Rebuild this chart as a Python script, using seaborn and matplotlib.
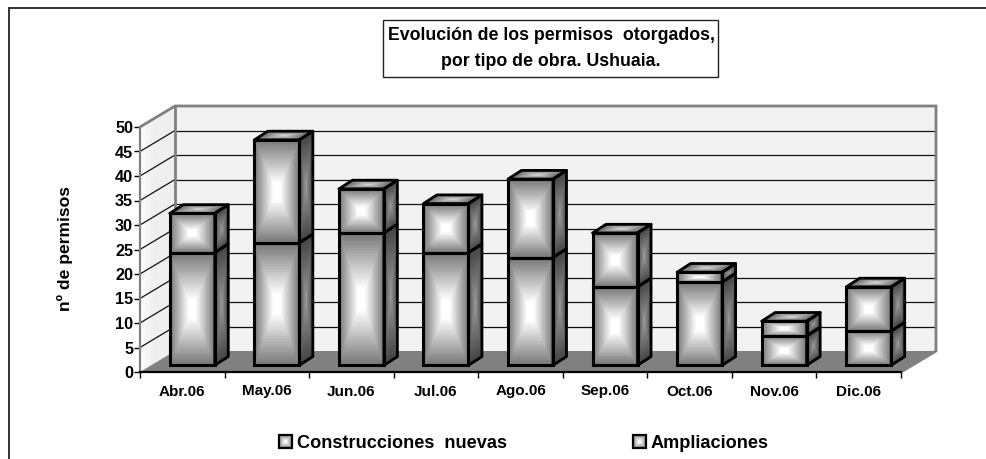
# -*- coding: utf-8 -*-
import numpy as np
import matplotlib
matplotlib.use('Agg')
import matplotlib.pyplot as plt
import seaborn as sns
from matplotlib.legend_handler import HandlerBase
from matplotlib.patches import Patch, Polygon, Rectangle

# Chart data
meses = ['Abr.06', 'May.06', 'Jun.06', 'Jul.06', 'Ago.06', 'Sep.06', 'Oct.06', 'Nov.06', 'Dic.06']
construcciones = [23, 25, 27, 23, 22, 16, 17, 6, 7]
ampliaciones = [8, 21, 9, 10, 16, 11, 2, 3, 9]
y_ticks = [0, 5, 10, 15, 20, 25, 30, 35, 40, 45, 50]

sns.set_style('white')
plt.rcParams['font.family'] = ['Liberation Sans', 'DejaVu Sans']
plt.rcParams['font.weight'] = 'bold'
plt.rcParams['text.color'] = 'black'
plt.rcParams['xtick.labelcolor'] = 'black'
plt.rcParams['ytick.labelcolor'] = 'black'
plt.rcParams['axes.labelcolor'] = 'black'

W, H = 986, 459
fig = plt.figure(figsize=(W / 100, H / 100), dpi=100)


def px_axes(x0, y_bottom, width, height):
    # Axes placed in pixels of the image (y counted from the top)
    return fig.add_axes([x0 / W, (H - y_bottom) / H, width / W, height / H])


# Front plane of the axis, pixels per unit are the same on both axes
ax = px_axes(140, 372, 761, 245)
ax.set_xlim(-0.5, 8.5)
ax.set_ylim(0, 50)
ux = 761 / 9
uy = 245 / 50

# Depth of the walls and of the bars, in data units
wall_dx, wall_dy = 35 / ux, 21 / uy
bar_dx, bar_dy = 13.5 / ux, 8.7 / uy

# -------------------------------------
# Walls and floor
# -------------------------------------
gris = '#808080'
x0, x1 = ax.get_xlim()
back = (x0 + wall_dx, x1 + wall_dx)

ax.add_patch(Polygon([(back[0], wall_dy), (back[1], wall_dy), (back[1], 50 + wall_dy), (back[0], 50 + wall_dy)],
                     fc='#f2f2f2', ec='none', clip_on=False, zorder=1))

# Left wall, lighter near the front
u = np.linspace(0, 1, 12)
X = x0 + np.outer(u, np.ones(2)) * wall_dx
Y = np.outer(u * wall_dy, np.ones(2)) + np.array([0, 50])
ax.pcolormesh(X, Y, (0.985 - 0.05 * np.minimum(u * 3, 1))[:-1, None], cmap='gray', vmin=0, vmax=1,
              shading='flat', clip_on=False, zorder=1)

ax.add_patch(Polygon([(x0, 0), (x1, 0), (back[1], wall_dy), (back[0], wall_dy)],
                     fc=gris, ec='none', clip_on=False, zorder=2))

# Grid lines on both walls
for v in y_ticks[1:-1]:
    ax.plot(back, [v + wall_dy, v + wall_dy], color='#111111', lw=0.9, clip_on=False, zorder=2)
    ax.plot([x0, back[0]], [v, v + wall_dy], color='#111111', lw=0.9, clip_on=False, zorder=2)

# Wall outline
ax.plot([x0, back[0], back[1], back[1], x1], [50, 50 + wall_dy, 50 + wall_dy, wall_dy, 0],
        color=gris, lw=2, clip_on=False, zorder=3, solid_joinstyle='miter')
ax.plot([back[0], back[0]], [wall_dy, 50 + wall_dy], color=gris, lw=2, clip_on=False, zorder=3)
ax.plot([x0, x0], [0, 50], color=gris, lw=1.6, clip_on=False, zorder=3)

# Axis look
ax.patch.set_visible(False)
for s in ['top', 'right', 'left']:
    ax.spines[s].set_visible(False)
ax.spines['bottom'].set_linewidth(1.6)
ax.spines['bottom'].set_color('black')
ax.spines['bottom'].set_zorder(4)
ax.set_xticks(np.arange(-0.5, 9, 1))
ax.set_xticklabels([])
ax.set_xticks(np.arange(9), meses, minor=True)
ax.set_yticks(y_ticks)
ax.tick_params(axis='x', which='major', length=4, width=1, color='black', bottom=True)
ax.tick_params(axis='x', which='minor', length=0, pad=9, labelsize=11)
ax.tick_params(axis='y', length=4, width=1, color='black', left=True, pad=1, labelsize=11.7)
ax.set_ylabel('nº de permisos', fontsize=12.6, fontweight='bold')
ax.yaxis.set_label_coords(-67 / 761, 0.505)

# -------------------------------------
# Bars: seaborn on a second axes, moved a bit into the floor
# -------------------------------------
pos = np.arange(len(meses))
ax2 = px_axes(150, 365.3, 761, 245)
sns.barplot(x=pos, y=construcciones, color='white', width=45 / ux, edgecolor='black', linewidth=2.2,
            saturation=1, native_scale=True, ax=ax2)
sns.barplot(x=pos, y=ampliaciones, bottom=construcciones, color='white', width=45 / ux, edgecolor='black',
            linewidth=2.2, saturation=1, native_scale=True, ax=ax2)
ax2.set_xlim(-0.5, 8.5)
ax2.set_ylim(0, 50)
ax2.axis('off')


def gradient(n, m, low, high, power=1.0):
    # Rectangular gradient: light centre, dark border
    a = np.abs(np.linspace(-1, 1, n))
    b = np.abs(np.linspace(-1, 1, m))
    t = np.maximum.outer(b, a)
    return np.minimum(low + (high - low) * (1 - t) ** power, 1)


def paint(corner, du, dv, low, high, zorder=5):
    # Paints the parallelogram corner, corner + du, corner + dv
    n, m = 80, 80
    s = np.linspace(0, 1, n + 1)
    r = np.linspace(0, 1, m + 1)
    X = corner[0] + np.outer(np.ones(m + 1), s) * du[0] + np.outer(r, np.ones(n + 1)) * dv[0]
    Y = corner[1] + np.outer(np.ones(m + 1), s) * du[1] + np.outer(r, np.ones(n + 1)) * dv[1]
    ax2.pcolormesh(X, Y, gradient(n, m, low, high), cmap='gray', vmin=0, vmax=1, shading='flat',
                   clip_on=False, zorder=zorder, rasterized=True, antialiased=False)
    pts = [corner, (corner[0] + du[0], corner[1] + du[1]),
           (corner[0] + du[0] + dv[0], corner[1] + du[1] + dv[1]), (corner[0] + dv[0], corner[1] + dv[1])]
    ax2.add_patch(Polygon(pts, fc='none', ec='black', lw=2.0, clip_on=False, zorder=zorder + 1,
                          joinstyle='round'))


bars = list(ax2.patches)
for i, bar in enumerate(bars):
    bx, by, bw, bh = bar.get_x(), bar.get_y(), bar.get_width(), bar.get_height()
    bar.set_facecolor('none')
    bar.set_zorder(7)
    bar.set_clip_on(False)
    paint((bx, by), (bw, 0), (0, bh), 0.47, 1.1)
    paint((bx + bw, by), (bar_dx, bar_dy), (0, bh), 0.27, 0.6)
    if i >= len(meses):
        paint((bx, by + bh), (bw, 0), (bar_dx, bar_dy), 0.4, 0.85)


# -------------------------------------
# Title box and legend
# -------------------------------------
fig.add_artist(Rectangle((382.5 / W, 1 - 77 / H), 335 / W, 57.5 / H, transform=fig.transFigure,
                         fc='white', ec='#222222', lw=1))
fig.text(551 / W, 1 - 35.5 / H, 'Evolución de los permisos  otorgados,', ha='center', va='center',
         fontsize=12.8, fontweight='bold')
fig.text(551 / W, 1 - 62 / H, 'por tipo de obra. Ushuaia.', ha='center', va='center',
         fontsize=12.8, fontweight='bold')


class GradientSquare(HandlerBase):
    # Legend key drawn as nested squares, like the gradient of the bars
    def create_artists(self, legend, orig_handle, xdescent, ydescent, width, height, fontsize, trans):
        side = 9.4
        x = width - side - xdescent
        y = (height - side) / 2 - ydescent
        out = []
        for k, g in enumerate(np.linspace(0.55, 0.98, 6)):
            d = k * side / 13
            out.append(Rectangle((x + d, y + d), side - 2 * d, side - 2 * d, fc=str(g), ec='none', transform=trans))
        out.append(Rectangle((x, y), side, side, fc='none', ec='black', lw=1.6, transform=trans))
        return out


handles = [Patch(label='Construcciones  nuevas'), Patch(label='Ampliaciones')]
fig.legend(handles=handles, handler_map={Patch: GradientSquare()}, ncol=2, frameon=False,
           loc='center left', bbox_to_anchor=(278 / W, 1 - 443 / H), fontsize=13.1,
           handlelength=0.75, handletextpad=0.27, columnspacing=6.9, borderpad=0, borderaxespad=0)

# Frame of the chart: only top and left lie inside the picture
fig.add_artist(plt.Line2D([8.5 / W, 1], [1 - 7.5 / H, 1 - 7.5 / H], color='#333333', lw=1.4))
fig.add_artist(plt.Line2D([8.5 / W, 8.5 / W], [0, 1 - 7.5 / H], color='#333333', lw=1.4))

plt.savefig('out.png', dpi=100)
